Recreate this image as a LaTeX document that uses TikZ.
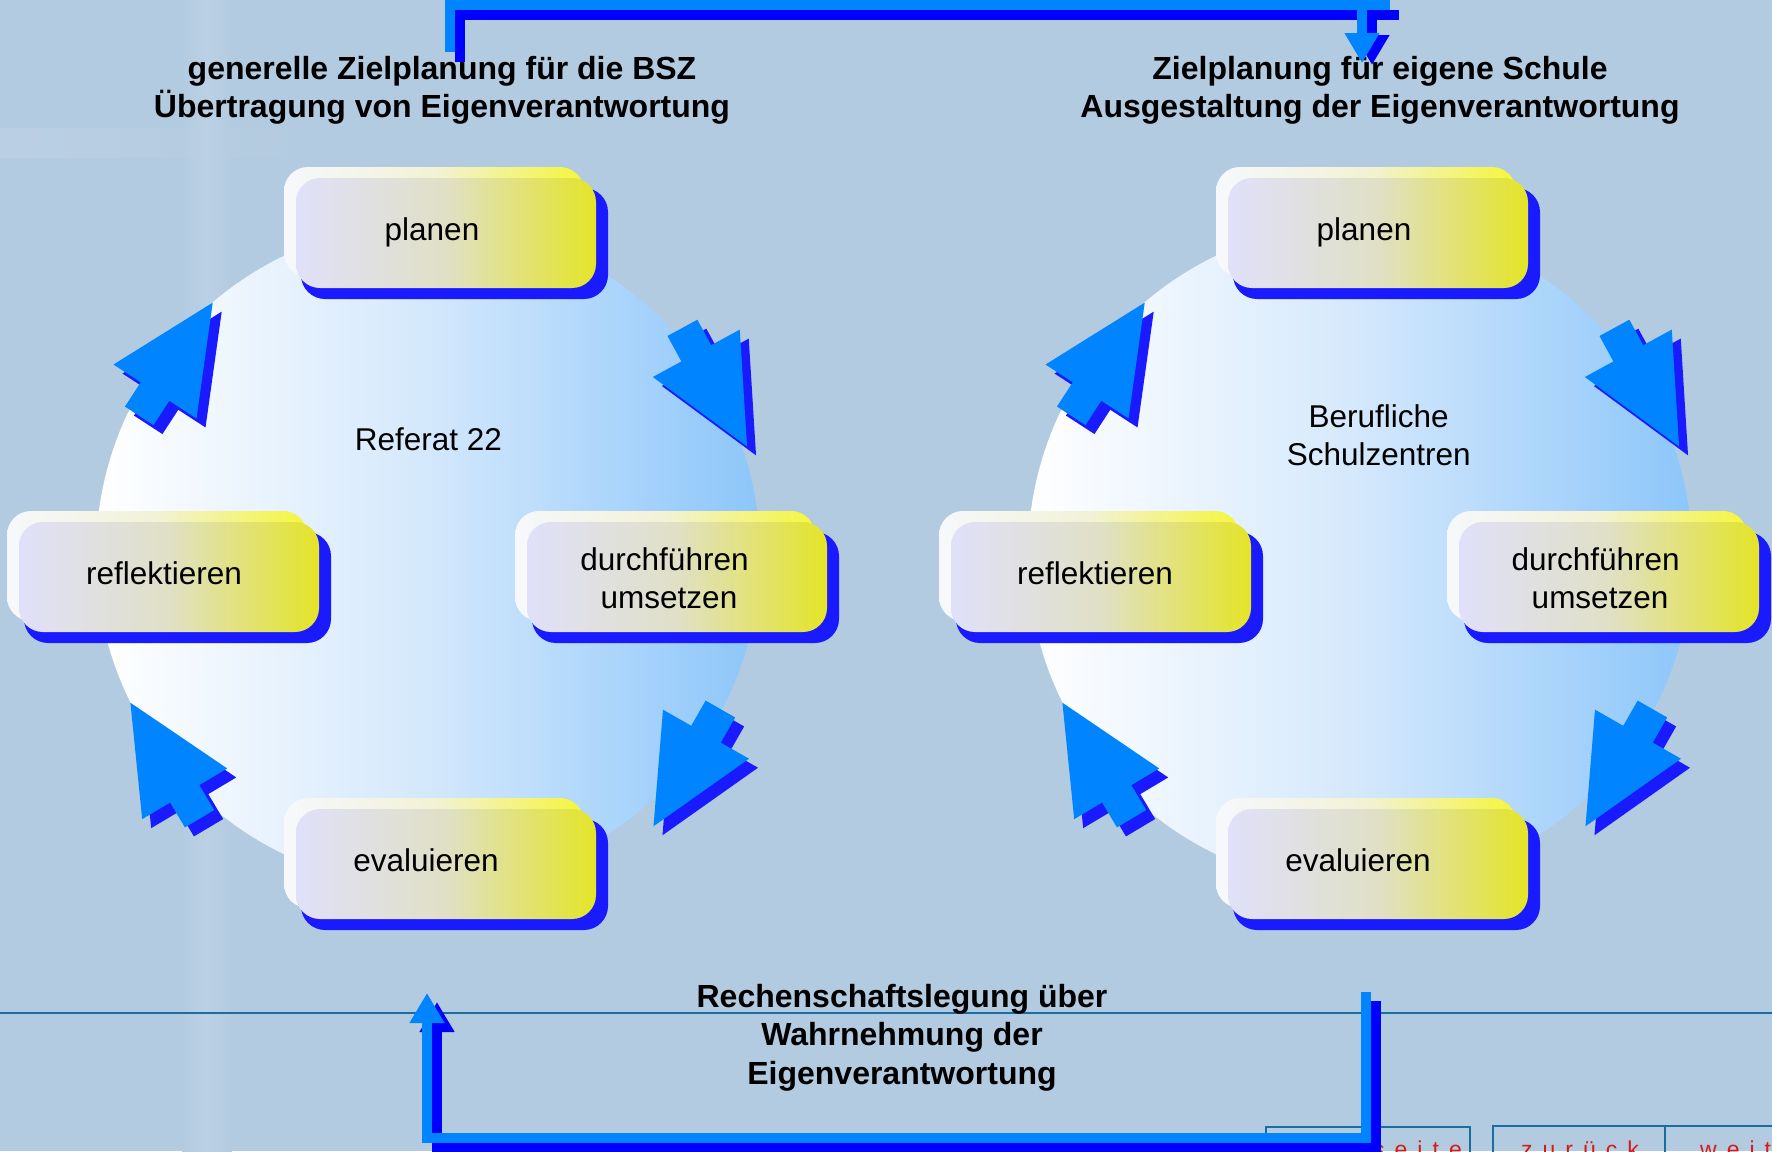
\documentclass[tikz,border=0pt]{standalone}
\usepackage{fontspec}
\setmainfont{Liberation Sans}
\usetikzlibrary{arrows.meta,calc,fadings}

\definecolor{bgblue}{RGB}{179,203,224}
\definecolor{bgstreak}{RGB}{187,208,228}
\definecolor{lightarrow}{RGB}{0,132,255}
\definecolor{darkline}{RGB}{0,0,255}
\definecolor{shadowblue}{RGB}{26,26,255}
\definecolor{ringright}{RGB}{140,198,250}
\definecolor{ringmid}{RGB}{212,232,252}
\definecolor{boxleft}{RGB}{224,224,250}
\definecolor{boxmid}{RGB}{224,224,198}
\definecolor{boxright}{RGB}{228,228,40}
\definecolor{hileft}{RGB}{246,248,252}
\definecolor{himid}{RGB}{242,242,214}
\definecolor{hiright}{RGB}{245,245,60}
\definecolor{rulecol}{RGB}{25,110,160}
\definecolor{navred}{RGB}{215,25,25}

\newcommand\hdfont{\fontsize{32}{38}\selectfont\bfseries}
\newcommand\lblfont{\fontsize{31.5}{38}\selectfont}
\newcommand\navfont{\fontsize{23}{26}\selectfont}
\newcommand\navgap{\kern10pt\relax}

\tikzset{
  ring/.style={circle, minimum size=664pt, inner sep=0pt,
    left color=white, right color=ringright, middle color=ringmid},
  cardbase/.style={rectangle, rounded corners=24pt, minimum width=300pt,
    minimum height=110pt, inner sep=0pt},
  cardshadow/.style={cardbase, minimum width=307pt, minimum height=111pt, fill=shadowblue},
  cardglow/.style={cardbase, left color=hileft, right color=hiright, middle color=himid},
  cardface/.style={cardbase, left color=boxleft, right color=boxright, middle color=boxmid},
  lbl/.style={font=\lblfont, inner sep=0pt, anchor=base},
  hd/.style={font=\hdfont, inner sep=0pt, anchor=base},
  nav/.style={font=\navfont, text=navred, inner sep=0pt, anchor=base west},
  conn/.style={line width=10pt, line join=miter},
  tip/.style={-{Triangle[width=33pt,length=30pt]}},
}

% one stage card: blue shadow, pale glow and the shaded face
\newcommand\card[3]{%
  \node[cardshadow] (#1-shadow) at (#2+8.5,#3+10.5) {};
  \node[cardglow]   (#1-glow)   at (#2-12,#3-11) {};
  \node[cardface]   (#1)        at (#2,#3) {};
}

% block arrow of the cycle, drawn from the middle of its head base
\newcommand\cyclearrow[3]{%
  \fill[shadowblue, shift={(#1+9,#2+9)}, rotate=#3]
    (-29,-17) -- (0,-17) -- (0,-49.5) -- (106,0) -- (0,49.5) -- (0,17) -- (-29,17) -- cycle;
  \fill[lightarrow, shift={(#1,#2)}, rotate=#3]
    (-29,-17) -- (0,-17) -- (0,-49.5) -- (106,0) -- (0,49.5) -- (0,17) -- (-29,17) -- cycle;
}

\begin{document}
\begin{tikzpicture}[x=1pt,y=-1pt]
  \path[use as bounding box, fill=bgblue] (0,0) rectangle (1772,1151);
  \clip (0,0) rectangle (1772,1151);

  % faint streaks of the backdrop
  \shade[left color=bgblue, right color=bgblue, middle color=bgstreak] (182,0) rectangle (232,1151);
  \fill[bgstreak, path fading=east] (0,128) rectangle (320,158);

  % rule and navigation buttons
  \draw[rulecol, line width=2.5pt] (0,1013) -- (1772,1013);
  \draw[rulecol, line width=2.5pt] (1266,1127) rectangle (1470,1170);
  \draw[rulecol, line width=2.5pt] (1493,1126) rectangle (1665,1170);
  \draw[rulecol, line width=2.5pt] (1665,1126) rectangle (1800,1170);
  \node[nav] (navHome) at (1373,1157) {s\navgap e\navgap i\navgap t\navgap e};
  \node[nav] (navBack) at (1521,1157) {z\navgap u\navgap r\navgap ü\navgap c\navgap k};
  \node[nav] (navNext) at (1700,1157) {w\navgap e\navgap i\navgap t\navgap e\navgap r};

  % the two cycles
  \node[ring] (leftRing)  at (428,555) {};
  \node[ring] (rightRing) at (1360,555) {};

  \cyclearrow{155}{391.5}{57}
  \cyclearrow{696.3}{353.3}{-61.4}
  \cyclearrow{706}{734.2}{-119.7}
  \cyclearrow{184.7}{793.8}{120.8}

  \cyclearrow{1087}{391.5}{57}
  \cyclearrow{1628.3}{353.3}{-61.4}
  \cyclearrow{1638}{734.2}{-119.7}
  \cyclearrow{1116.7}{793.8}{120.8}

  \card{lPlan}{446}{233}
  \card{lRefl}{169}{577}
  \card{lDo}{677}{577}
  \card{lEval}{446}{864}

  \card{rPlan}{1378}{233}
  \card{rRefl}{1101}{577}
  \card{rDo}{1609}{577}
  \card{rEval}{1378}{864}

  % card labels
  \node[lbl] (lPlanT) at (432,240.5) {planen};
  \node[lbl] (lReflT) at (164,584) {reflektieren};
  \node[lbl] (lDoT1) at (664.5,570.4) {durchführen};
  \node[lbl] (lDoT2) at (669,608.8) {umsetzen};
  \node[lbl] (lEvalT) at (426,871) {evaluieren};
  \node[lbl] (lCentre) at (428.3,450.6) {Referat 22};

  \node[lbl] (rPlanT) at (1364,240.5) {planen};
  \node[lbl] (rReflT) at (1095,584) {reflektieren};
  \node[lbl] (rDoT1) at (1595.7,570.4) {durchführen};
  \node[lbl] (rDoT2) at (1600,608.8) {umsetzen};
  \node[lbl] (rEvalT) at (1358,871) {evaluieren};
  \node[lbl] (rCentre1) at (1378.7,427) {Berufliche};
  \node[lbl] (rCentre2) at (1378.7,465.3) {Schulzentren};

  % headings
  \node[hd] (lHead1) at (442,79.3) {generelle Zielplanung für die BSZ};
  \node[hd] (lHead2) at (442,117.7) {Übertragung von Eigenverantwortung};
  \node[hd] (rHead1) at (1380,79.3) {Zielplanung für eigene Schule};
  \node[hd] (rHead2) at (1380,117.7) {Ausgestaltung der Eigenverantwortung};
  \node[hd] (report1) at (902,1007) {Rechenschaftslegung über};
  \node[hd] (report2) at (902,1045.5) {Wahrnehmung der};
  \node[hd] (report3) at (902,1084) {Eigenverantwortung};

  % connector from the general planning to the school's own planning
  \coordinate (topA) at (449.5,52);
  \coordinate (topR) at (1390,5);
  \coordinate (topB) at (1362,63);
  \draw[conn, darkline] ($(topA)+(10,10)$) |- ($(topR)+(9,10)$);
  \draw[conn, darkline, tip] ($(topB|-topR)+(10,10)$) -- ($(topB)+(10,2)$);
  \draw[conn, lightarrow] (topA) |- (topR);
  \draw[conn, lightarrow, tip] (topB|-topR) -- (topB);

  % reporting connector back to the general planning
  \coordinate (botA) at (1365.5,992);
  \coordinate (botC) at (1365.5,1138);
  \coordinate (botB) at (427,993);
  \draw[conn, darkline, tip] ($(botA)+(10,9)$) -- ($(botC)+(10,9)$) -| ($(botB)+(10,9)$);
  \draw[conn, lightarrow, tip] (botA) -- (botC) -| (botB);
\end{tikzpicture}
\end{document}
